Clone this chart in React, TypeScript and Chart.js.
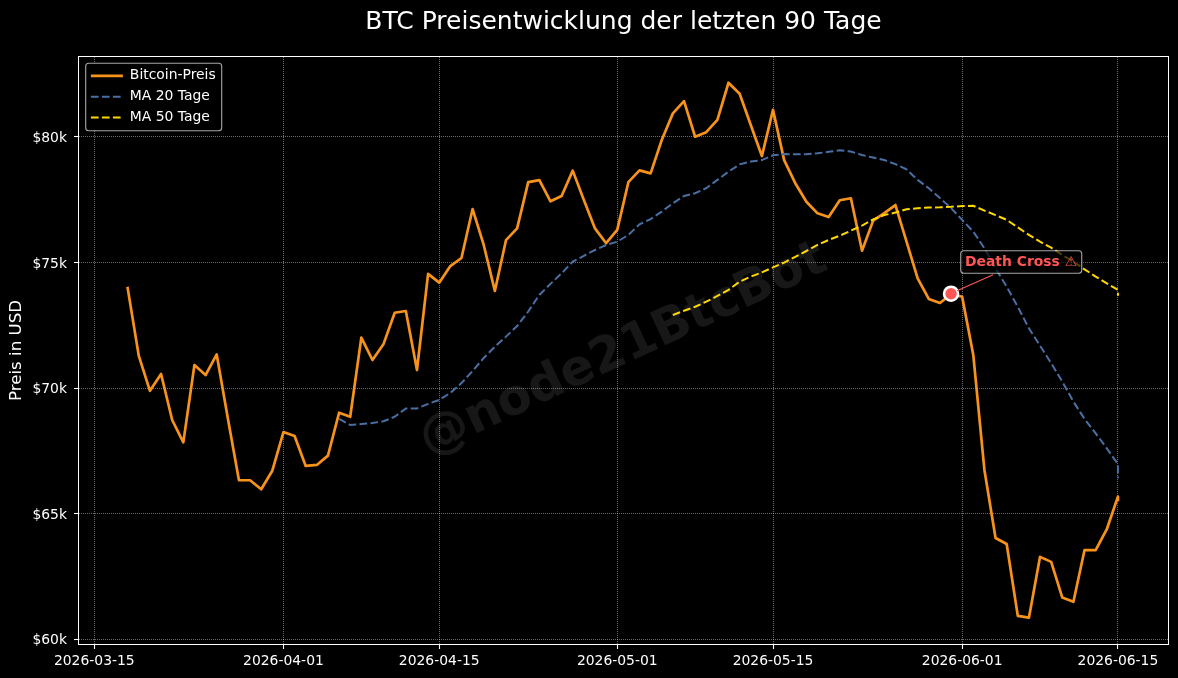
import React, { useEffect, useRef } from "react";
import { Chart, registerables } from "chart.js";

Chart.register(...registerables);

const chartTitle = "BTC Preisentwicklung der letzten 90 Tage";
const yTitle = "Preis in USD";
const watermark = "@node21BtcBot";
const crossLabel = "Death Cross ⚠";

const dates = [
  "2026-03-18","2026-03-19","2026-03-20","2026-03-21","2026-03-22","2026-03-23","2026-03-24","2026-03-25","2026-03-26","2026-03-27","2026-03-28","2026-03-29","2026-03-30","2026-03-31",
  "2026-04-01","2026-04-02","2026-04-03","2026-04-04","2026-04-05","2026-04-06","2026-04-07","2026-04-08","2026-04-09","2026-04-10","2026-04-11","2026-04-12","2026-04-13","2026-04-14","2026-04-15","2026-04-16","2026-04-17","2026-04-18","2026-04-19","2026-04-20","2026-04-21","2026-04-22","2026-04-23","2026-04-24","2026-04-25","2026-04-26","2026-04-27","2026-04-28","2026-04-29","2026-04-30",
  "2026-05-01","2026-05-02","2026-05-03","2026-05-04","2026-05-05","2026-05-06","2026-05-07","2026-05-08","2026-05-09","2026-05-10","2026-05-11","2026-05-12","2026-05-13","2026-05-14","2026-05-15","2026-05-16","2026-05-17","2026-05-18","2026-05-19","2026-05-20","2026-05-21","2026-05-22","2026-05-23","2026-05-24","2026-05-25","2026-05-26","2026-05-27","2026-05-28","2026-05-29","2026-05-30","2026-05-31",
  "2026-06-01","2026-06-02","2026-06-03","2026-06-04","2026-06-05","2026-06-06","2026-06-07","2026-06-08","2026-06-09","2026-06-10","2026-06-11","2026-06-12","2026-06-13","2026-06-14","2026-06-15","2026-06-15",
];

const price = [
  73.98,71.28,69.89,70.56,68.73,67.84,70.92,70.52,71.34,68.8,66.33,66.33,65.97,66.71,
  68.25,68.09,66.9,66.94,67.31,69.02,68.86,72.01,71.12,71.76,73.0,73.07,70.72,74.55,74.2,74.86,75.18,77.13,75.7,73.87,75.89,76.36,78.2,78.28,77.44,77.65,78.66,77.49,76.36,75.77,
  76.3,78.2,78.67,78.55,79.88,80.94,81.43,80.01,80.19,80.68,82.16,81.72,80.48,79.24,81.08,79.08,78.16,77.42,76.96,76.81,77.48,77.56,75.47,76.67,76.97,77.29,75.83,74.37,73.55,73.39,73.74,
  73.64,71.32,66.74,64.03,63.79,60.93,60.86,63.28,63.08,61.66,61.49,63.55,63.55,64.38,65.68,65.55,
];

const ma20Values = [
  68.77,68.53,68.57,68.61,68.68,68.86,69.19,69.19,69.37,69.53,69.81,70.2,70.68,71.2,71.65,72.05,72.47,73.05,73.71,74.15,74.57,75.04,75.27,75.5,75.7,
  75.83,76.1,76.52,76.73,77.03,77.36,77.65,77.76,77.96,78.29,78.62,78.91,79.02,79.08,79.27,79.32,79.31,79.31,79.35,79.41,79.47,79.42,79.28,79.18,79.08,78.92,78.71,78.29,77.96,77.57,77.17,
  76.7,76.23,75.57,74.77,74.04,73.24,72.38,71.69,70.99,70.26,69.46,68.77,68.2,67.6,66.97,66.41,
];

const ma50Values = [
  72.91,73.08,73.24,73.44,73.67,73.91,74.24,74.44,74.61,74.81,75.0,75.23,75.46,75.7,75.9,76.07,76.27,76.47,76.72,76.89,76.99,77.12,77.16,77.19,77.2,77.22,
  77.25,77.26,77.07,76.89,76.7,76.4,76.1,75.83,75.59,75.3,75.04,74.73,74.44,74.17,73.91,73.68,
];

const xTickDates = ["2026-03-15","2026-04-01","2026-04-15","2026-05-01","2026-05-15","2026-06-01","2026-06-15"];
const yTicks = [60, 65, 70, 75, 80];
const crossDate = "2026-05-31";
const crossValue = 73.76;

const dayOf = (d: string) => {
  const [y, m, dd] = d.split("-").map(Number);
  return Date.UTC(y, m - 1, dd) / 86400000;
};
const labelOf = (day: number) => new Date(day * 86400000).toISOString().slice(0, 10);
const seriesFrom = (vals: number[]) => {
  const offset = dates.length - vals.length;
  return vals.map((v, i) => ({ x: dayOf(dates[i + offset]), y: v }));
};

const FONT = "'DejaVu Sans'";

const decor = {
  id: "decor",
  afterLayout(chart: any) {
    const a = chart.chartArea;
    chart.legend.left = a.left + 5;
    chart.legend.top = a.top + 5;
  },
  beforeDatasetsDraw(chart: any) {
    const { ctx, chartArea: a } = chart;
    ctx.save();
    ctx.translate((a.left + a.right) / 2, (a.top + a.bottom) / 2);
    ctx.rotate((-25 * Math.PI) / 180);
    ctx.font = `bold 49.5px ${FONT}`;
    ctx.fillStyle = "rgba(255,255,255,0.09)";
    ctx.textAlign = "center";
    ctx.textBaseline = "middle";
    ctx.fillText(watermark, 0, 0);
    ctx.restore();
  },
  afterDatasetsDraw(chart: any) {
    const { ctx, chartArea: a, scales } = chart;
    ctx.save();
    // four-sided frame
    ctx.strokeStyle = "#fff";
    ctx.lineWidth = 1;
    ctx.strokeRect(a.left - 0.5, a.top - 0.5, a.right - a.left + 1, a.bottom - a.top + 1);
    // legend frame
    const lx = a.left + 6.7, ly = a.top + 6.3, lw = 136, lh = 67.4;
    ctx.beginPath();
    ctx.roundRect(lx, ly, lw, lh, 3);
    ctx.fillStyle = "#000";
    ctx.fill();
    ctx.strokeStyle = "rgba(255,255,255,0.65)";
    ctx.lineWidth = 1.1;
    ctx.stroke();
    ctx.restore();
    chart.legend.draw();

    // Death Cross annotation
    const px = scales.x.getPixelForValue(dayOf(crossDate));
    const py = scales.y.getPixelForValue(crossValue);
    ctx.save();
    ctx.strokeStyle = "#ff5555";
    ctx.lineWidth = 1.1;
    ctx.beginPath();
    ctx.moveTo(px + 42, py - 19);
    ctx.lineTo(px + 6, py - 3);
    ctx.stroke();
    const bx = px + 9.7, by = py - 43, bw = 121, bh = 22.6;
    ctx.beginPath();
    ctx.roundRect(bx, by, bw, bh, 3);
    ctx.fillStyle = "rgba(0,0,0,0.7)";
    ctx.fill();
    ctx.strokeStyle = "rgba(255,255,255,0.65)";
    ctx.lineWidth = 1.1;
    ctx.stroke();
    ctx.font = `bold 13.9px ${FONT}`;
    ctx.fillStyle = "#ff5555";
    ctx.textAlign = "left";
    ctx.textBaseline = "middle";
    ctx.fillText(crossLabel, bx + 4.3, by + bh / 2);
    ctx.restore();
  },
};

export default function App() {
  const ref = useRef<HTMLCanvasElement>(null);
  useEffect(() => {
    document.body.style.margin = "0";
    document.body.style.background = "#000";
    const chart = new Chart(ref.current as HTMLCanvasElement, {
      type: "line",
      plugins: [decor],
      data: {
        datasets: [
          {
            label: "Bitcoin-Preis",
            data: seriesFrom(price),
            borderColor: "#F7931A",
            backgroundColor: "#F7931A",
            borderWidth: 2.7,
            pointRadius: 0,
            tension: 0,
            borderJoinStyle: "round",
            borderCapStyle: "square",
            order: 3,
          },
          {
            label: "MA 20 Tage",
            data: seriesFrom(ma20Values),
            borderColor: "#4A6FA5",
            backgroundColor: "#4A6FA5",
            borderWidth: 2,
            borderDash: [7.7, 3.3],
            pointRadius: 0,
            tension: 0,
            order: 2,
          },
          {
            label: "MA 50 Tage",
            data: seriesFrom(ma50Values),
            borderColor: "#FFD700",
            backgroundColor: "#FFD700",
            borderWidth: 2,
            borderDash: [7.7, 3.3],
            pointRadius: 0,
            tension: 0,
            order: 1,
          },
          {
            label: "Death Cross",
            data: [{ x: dayOf(crossDate), y: crossValue }],
            type: "scatter",
            pointRadius: 7,
            pointBackgroundColor: "#ff5555",
            pointBorderColor: "#ffffff",
            pointBorderWidth: 2.6,
            showLine: false,
            order: 0,
          },
        ] as any,
      },
      options: {
        responsive: false,
        animation: false,
        devicePixelRatio: 1,
        layout: { padding: { left: 0, right: 10, top: 0, bottom: 0 } },
        plugins: {
          title: {
            display: true,
            text: chartTitle,
            color: "#fff",
            fullSize: false,
            font: { family: FONT, size: 25, weight: "normal", lineHeight: 1.2 },
            padding: { top: 7, bottom: 20 },
          },
          tooltip: { enabled: false },
          legend: {
            display: true,
            position: "chartArea",
            align: "start",
            labels: {
              color: "#fff",
              padding: 6.9,
              boxHeight: 8,
              usePointStyle: true,
              pointStyle: "line",
              pointStyleWidth: 32,
              font: { family: FONT, size: 13.9 },
              filter: (item: any) => item.text !== "Death Cross",
              generateLabels: (c: any) =>
                c.data.datasets.map((d: any, i: number) => ({
                  text: d.label,
                  fontColor: "#fff",
                  strokeStyle: d.borderColor,
                  fillStyle: d.borderColor,
                  lineWidth: d.borderWidth,
                  lineDash: d.borderDash || [],
                  pointStyle: "line",
                  datasetIndex: i,
                })),
            },
          },
        },
        scales: {
          x: {
            type: "linear",
            min: dayOf("2026-03-15") - 1.375,
            max: dayOf("2026-06-15") + 4.5,
            afterBuildTicks: (s: any) => {
              s.ticks = xTickDates.map((d) => ({ value: dayOf(d) }));
            },
            afterFit: (s: any) => {
              s.height = 34;
            },
            grid: {
              color: "rgba(255,255,255,0.42)",
              lineWidth: 1,
              tickColor: "#fff",
              tickLength: 5,
              tickWidth: 1.1,
              tickBorderDash: [],
            },
            border: { display: false, dash: [1, 1] },
            ticks: {
              color: "#fff",
              maxRotation: 0,
              autoSkip: false,
              padding: 4,
              font: { family: FONT, size: 13.9 },
              callback: (v: any) => labelOf(Number(v)),
            },
          },
          y: {
            type: "linear",
            min: 59.81,
            max: 83.185,
            afterBuildTicks: (s: any) => {
              s.ticks = yTicks.map((v) => ({ value: v }));
            },
            afterFit: (s: any) => {
              s.width = 79;
            },
            title: {
              display: true,
              text: yTitle,
              color: "#fff",
              font: { family: FONT, size: 16.67, weight: "normal" },
              padding: { top: 7, bottom: 0 },
            },
            grid: {
              color: "rgba(255,255,255,0.42)",
              lineWidth: 1,
              tickColor: "#fff",
              tickLength: 5,
              tickWidth: 1.1,
              tickBorderDash: [],
            },
            border: { display: false, dash: [1, 1] },
            ticks: {
              color: "#fff",
              padding: 7,
              labelOffset: 1.5,
              font: { family: FONT, size: 13.9 },
              callback: (v: any) => `$${v}k`,
            },
          },
        },
      } as any,
    });
    return () => chart.destroy();
  }, []);
  return (
    <canvas
      ref={ref}
      width={1178}
      height={678}
      style={{ display: "block", background: "#000", width: 1178, height: 678 }}
    />
  );
}
